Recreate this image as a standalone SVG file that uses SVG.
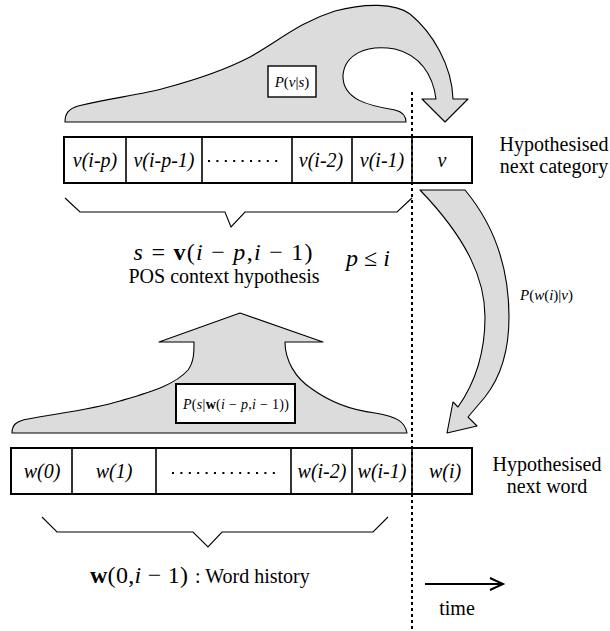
<svg xmlns="http://www.w3.org/2000/svg" width="610" height="631" viewBox="0 0 610 631" font-family="'Liberation Serif', 'Times New Roman', serif">
<style>
text{font-family:"Liberation Serif","Times New Roman",serif;fill:#000}
.cell{fill:#fff;stroke:#000;stroke-width:2}
.div{stroke:#000;stroke-width:1.6}
.lbl{font-size:20px;font-style:italic;text-anchor:middle}
.side{font-size:20px;text-anchor:middle}
.shape{fill:#dcdcdc;stroke:#000;stroke-width:1.1;stroke-linejoin:round}
.brace{fill:none;stroke:#000;stroke-width:1.1}
.dots{stroke:#000;stroke-width:2;stroke-dasharray:2 6.4}
.it{font-style:italic}
.bf{font-weight:bold}
</style>
<rect width="610" height="631" fill="#fff"/>
<g id="connectors">
  <path id="arrow-top" class="shape" d="M65,122 C65,114 68,109 78,106 C110,98 140,95 165,88 C195,80 225,70 250,57 C280,40 300,22 335,11 C365,3 395,3 410,14 C432,32 452,65 453,99 L468,99 L445,122 L422,99 L436,99 C433,75 420,55 395,49 C365,44 345,55 343,75 C342,100 370,106 395,110 C403,112 406,117 406,122 Z"/>
  <path id="arrow-right" class="shape" d="M420,190 L465,190 C490,220 509,260 509,317 C509,350 500,378 485,397 L468,417 L477,426 L447,433 L453,402 L458,407 C470,390 485,360 485,317 C485,280 468,240 420,190 Z"/>
  <path id="arrow-up" class="shape" d="M12,433 C12,425 16,421 28,419 C60,413 90,410 120,401 C150,392 175,385 188,370 C194,362 194,352 194,342 L159,342 L240,313 L323,342 L285,342 C285,360 295,378 312,389 C330,402 350,410 375,413 C398,417 405,422 407,433 Z"/>
  <path id="time-arrow" d="M425,584 L502,584 M490,578 L503,584 L490,590" fill="none" stroke="#000" stroke-width="2"/>
</g>
<g id="pvs-box">
  <rect x="268" y="66" width="48" height="31" fill="#fff" stroke="#000" stroke-width="1.4"/>
  <text x="292" y="87" font-size="15" text-anchor="middle"><tspan class="it">P</tspan>(<tspan class="it">v</tspan>|<tspan class="it">s</tspan>)</text>
</g>
<g id="psw-box">
  <rect x="176" y="384" width="119" height="39" fill="#fff" stroke="#000" stroke-width="2"/>
  <text x="236" y="409" font-size="14" text-anchor="middle" textLength="106"><tspan class="it">P</tspan>(<tspan class="it">s</tspan>|<tspan class="bf">w</tspan>(<tspan class="it">i</tspan> − <tspan class="it">p</tspan>,<tspan class="it">i</tspan> − 1))</text>
</g>
<g id="category-row">
  <rect class="cell" x="64" y="137" width="408" height="46"/>
  <line class="div" x1="126" y1="137" x2="126" y2="183"/>
  <line class="div" x1="202" y1="137" x2="202" y2="183"/>
  <line class="div" x1="292" y1="137" x2="292" y2="183"/>
  <line class="div" x1="352" y1="137" x2="352" y2="183"/>
  <line class="div" x1="412" y1="137" x2="412" y2="183"/>
  <text class="lbl" x="95" y="167">v(i-p)</text>
  <text class="lbl" x="164" y="167">v(i-p-1)</text>
  <line class="dots" x1="208" y1="161" x2="278" y2="161"/>
  <text class="lbl" x="321" y="167">v(i-2)</text>
  <text class="lbl" x="382" y="167">v(i-1)</text>
  <text class="lbl" x="442" y="167">v</text>
  <text class="side" x="554" y="151">Hypothesised</text>
  <text class="side" x="554" y="173">next category</text>
</g>
<g id="pos-context">
  <path class="brace" d="M65,198 L80,212 L225,212 L231,227 L245,212 L397,212 L412,198"/>
  <text x="223" y="260" font-size="24" text-anchor="middle" textLength="179"><tspan class="it">s</tspan> = <tspan class="bf">v</tspan>(<tspan class="it">i</tspan> − <tspan class="it">p</tspan>,<tspan class="it">i</tspan> − 1)</text>
  <text x="224" y="283" font-size="20" text-anchor="middle">POS context hypothesis</text>
  <text x="346" y="266" font-size="24"><tspan class="it">p</tspan> ≤ <tspan class="it">i</tspan></text>
</g>
<g id="pwv-label">
  <text x="520" y="300" font-size="15" textLength="53"><tspan class="it">P</tspan>(<tspan class="it">w</tspan>(<tspan class="it">i</tspan>)|<tspan class="it">v</tspan>)</text>
</g>
<g id="word-row">
  <rect class="cell" x="11" y="448" width="461" height="46"/>
  <line class="div" x1="72" y1="448" x2="72" y2="494"/>
  <line class="div" x1="156" y1="448" x2="156" y2="494"/>
  <line class="div" x1="291" y1="448" x2="291" y2="494"/>
  <line class="div" x1="352" y1="448" x2="352" y2="494"/>
  <line class="div" x1="412" y1="448" x2="412" y2="494"/>
  <text class="lbl" x="42" y="478">w(0)</text>
  <text class="lbl" x="114" y="478">w(1)</text>
  <line class="dots" x1="172" y1="473" x2="277" y2="473"/>
  <text class="lbl" x="322" y="478">w(i-2)</text>
  <text class="lbl" x="382" y="478">w(i-1)</text>
  <text class="lbl" x="445" y="478">w(i)</text>
  <text class="side" x="547" y="471">Hypothesised</text>
  <text class="side" x="547" y="493">next word</text>
</g>
<g id="word-history">
  <path class="brace" d="M42,517 L57,532 L193,532 L208,547 L222,532 L373,532 L388,517"/>
  <text x="90" y="583" font-size="24" textLength="98"><tspan class="bf">w</tspan>(0,<tspan class="it">i</tspan> − 1)</text>
  <text x="195" y="583" font-size="20">: Word history</text>
</g>
<g id="time">
  <text x="457" y="615" font-size="20" text-anchor="middle">time</text>
</g>
<g id="now-line">
  <line x1="412" y1="92" x2="412" y2="631" stroke="#000" stroke-width="2" stroke-dasharray="3 3"/>
</g>
</svg>
